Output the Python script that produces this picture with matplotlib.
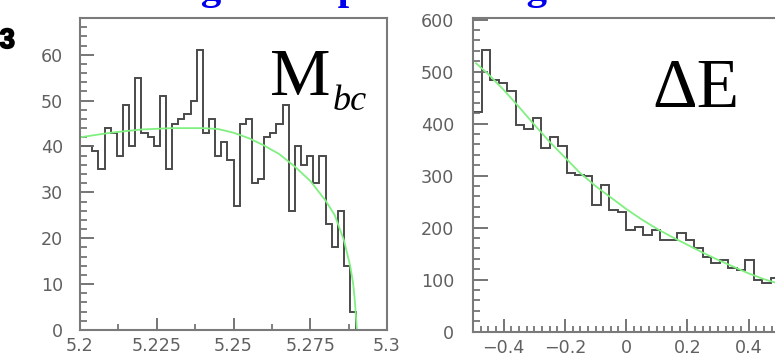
import matplotlib
matplotlib.use("Agg")
import matplotlib.pyplot as plt
import matplotlib.patheffects as pe
import numpy as np
from matplotlib.ticker import MultipleLocator

# ---------------- data ----------------
# Mbc histogram: 0.002 GeV bins starting at 5.200
mbc_start = 5.200
mbc_width = 0.002
mbc_counts = [40, 40, 39, 35, 44, 43, 38, 49, 40, 55,
              43, 42, 40, 51, 35, 45, 46, 47, 50, 61,
              43, 46, 38, 41, 37, 27, 45, 46, 32, 33,
              42, 43, 45, 49, 26, 40, 36, 38, 32, 38,
              23, 18, 26, 14, 4]
# fitted background curve
mbc_fit_x = [5.200, 5.210, 5.220, 5.230, 5.240, 5.245, 5.250, 5.255, 5.260,
             5.265, 5.270, 5.275, 5.280, 5.283, 5.286, 5.288, 5.289, 5.2895,
             5.2899, 5.2902]
mbc_fit_y = [42.0, 43.0, 43.7, 44.0, 44.0, 43.8, 43.0, 41.8, 40.2,
             38.3, 35.6, 32.5, 28.2, 25.0, 19.5, 14.0, 10.0, 6.5,
             2.9, 0.0]

# Delta E histogram: 36 bins over [-0.5, 0.5]
de_start = -0.5
de_stop = 0.5
de_counts = [423, 542, 484, 479, 463, 397, 390, 411, 353, 375,
             356, 305, 302, 300, 244, 282, 234, 231, 196, 202,
             186, 196, 176, 176, 189, 176, 160, 144, 132, 138,
             122, 119, 137, 100, 93, 103]
de_fit_x = [-0.49, -0.45, -0.40, -0.35, -0.30, -0.25, -0.20, -0.15, -0.10, -0.05,
            0.00, 0.05, 0.10, 0.15, 0.20, 0.25, 0.30, 0.35, 0.40, 0.45, 0.50]
de_fit_y = [516, 495, 465, 432, 398, 365, 335, 305, 280, 258,
            236, 216, 198, 182, 167, 152, 138, 125, 112, 101, 92]

mbc_xticks = [5.2, 5.225, 5.25, 5.275, 5.3]
mbc_xticklabels = ["5.2", "5.225", "5.25", "5.275", "5.3"]
de_xticks = [-0.4, -0.2, 0.0, 0.2, 0.4]
de_xticklabels = ["\u22120.4", "\u22120.2", "0", "0.2", "0.4"]

# ---------------- figure ----------------
W, H = 775, 356
fig = plt.figure(figsize=(W / 100, H / 100), dpi=100)
fig.patch.set_facecolor("white")

def px(x0, y0, x1, y1):
    return [x0 / W, 1 - y1 / H, (x1 - x0) / W, (y1 - y0) / H]

ax1 = fig.add_axes(px(80, 18, 387, 330))
ax2 = fig.add_axes(px(473, 18, 779.3, 331.7))

spine_col = "#7a7a7a"
tick_col = "#6a6a6a"
lab_col = "#606060"
hist_col = "#4a4a4a"
fit_col = "#80f080"
LS = 12.6

for ax in (ax1, ax2):
    for s in ax.spines.values():
        s.set_color(spine_col)
        s.set_linewidth(1.5)
    ax.set_facecolor("white")

# --- Mbc panel ---
edges1 = mbc_start + mbc_width * np.arange(len(mbc_counts) + 1)
ax1.stairs(mbc_counts, edges1, color=hist_col, lw=1.4, baseline=0)
ax1.plot(mbc_fit_x, mbc_fit_y, color=fit_col, lw=1.3)
ax1.set_xlim(5.2, 5.3)
ax1.set_ylim(0, 68)
ax1.set_xticks(mbc_xticks)
ax1.set_xticklabels(mbc_xticklabels)
ax1.xaxis.set_minor_locator(MultipleLocator(0.0125))
ax1.yaxis.set_major_locator(MultipleLocator(10))
ax1.yaxis.set_minor_locator(MultipleLocator(2))
ax1.tick_params(axis="y", which="major", direction="in", length=10, width=1.3,
                color=tick_col, pad=12, labelsize=LS, labelcolor=lab_col)
ax1.tick_params(axis="y", which="minor", direction="in", length=5, width=1.2,
                color=tick_col)
ax1.tick_params(axis="x", which="major", direction="in", length=8.6, width=1.3,
                color=tick_col, pad=5, labelsize=LS, labelcolor=lab_col)
ax1.tick_params(axis="x", which="minor", direction="in", length=4.3, width=1.2,
                color=tick_col)

# --- Delta E panel ---
edges2 = np.linspace(de_start, de_stop, len(de_counts) + 1)
ax2.stairs(de_counts, edges2, color=hist_col, lw=1.4, baseline=0)
ax2.plot(de_fit_x, de_fit_y, color=fit_col, lw=1.3)
ax2.set_xlim(-0.5, 0.5)
ax2.set_ylim(0, 603)
ax2.set_xticks(de_xticks)
ax2.set_xticklabels(de_xticklabels)
ax2.xaxis.set_minor_locator(MultipleLocator(0.025))
ax2.yaxis.set_major_locator(MultipleLocator(100))
ax2.yaxis.set_minor_locator(MultipleLocator(20))
ax2.tick_params(axis="y", which="major", direction="in", length=10.5, width=1.3,
                color=tick_col, pad=13.5, labelsize=LS, labelcolor=lab_col)
ax2.tick_params(axis="y", which="minor", direction="in", length=5, width=1.2,
                color=tick_col)
ax2.tick_params(axis="x", which="major", direction="in", length=9.3, width=1.3,
                color=tick_col, pad=5, labelsize=LS, labelcolor=lab_col)
ax2.tick_params(axis="x", which="minor", direction="in", length=4.5, width=1.2,
                color=tick_col)

for ax in (ax1, ax2):
    for lab in ax.get_xticklabels() + ax.get_yticklabels():
        lab.set_fontfamily("DejaVu Sans")

# --- panel labels ---
fig.text(270 / W, 1 - 95 / H, "M", fontsize=49, family="Liberation Serif",
         color="black", ha="left", va="baseline")
fig.text(333 / W, 1 - 110 / H, "bc", fontsize=26, family="Liberation Serif",
         style="italic", color="black", ha="left", va="baseline")
fig.text(652 / W, 1 - 107 / H, "\u0394E", fontsize=50, family="Liberation Serif",
         color="black", ha="left", va="baseline")

# --- slide fragments ---
fig.text(15 / W, 1 - 48 / H, "3", fontsize=20, family="Liberation Sans",
         weight="bold", color="black", ha="right", va="baseline",
         path_effects=[pe.withStroke(linewidth=1.2, foreground="black")])
fig.text(112 / W, 1 + 1 / H, "Background p.d.f.s using", fontsize=29.5,
         family="Liberation Serif", weight="bold", color="#0000ee",
         ha="left", va="baseline")

fig.savefig("out.png", dpi=100, facecolor="white")
